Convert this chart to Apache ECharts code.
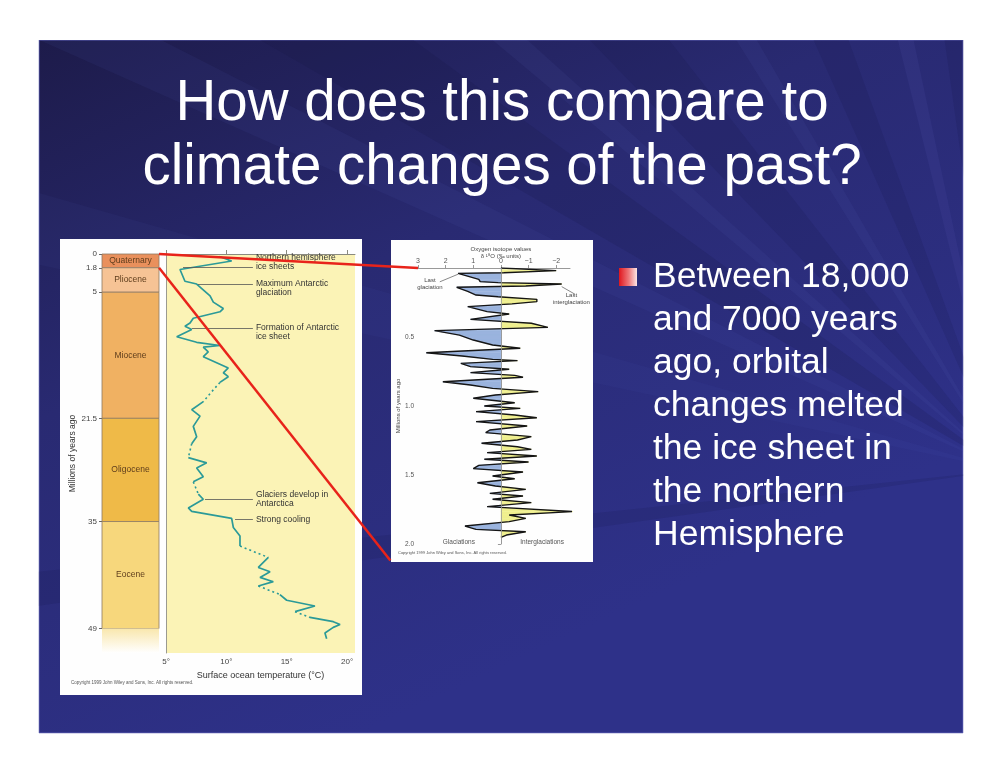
<!DOCTYPE html>
<html lang="en">
<head>
<meta charset="UTF-8">
<title>How does this compare to climate changes of the past?</title>
<script src="https://cdn.jsdelivr.net/npm/echarts@6/dist/echarts.min.js"></script>
<style>
  html, body { margin: 0; padding: 0; background: #fff; }
  #main { width: 1000px; height: 773px; }
</style>
</head>
<body>
<div id="main"></div>
<script>
var FONT = '"Liberation Sans", Arial, sans-serif';

// slide text
var titleLines = ['How does this compare to', 'climate changes of the past?'];
var bulletLines = ['Between 18,000', 'and 7000 years', 'ago, orbital', 'changes melted',
  'the ice sheet in', 'the northern', 'Hemisphere'];

// geologic column (millions of years ago)
var epochNames = ['Quaternary', 'Pliocene', 'Miocene', 'Oligocene', 'Eocene', ''];
var epochStart = [0, 1.8, 5, 21.5, 35, 49];
var epochEnd = [1.8, 5, 21.5, 35, 49, 52.2];
var ageTicks = [0, 1.8, 5, 21.5, 35, 49];

// surface ocean temperature (°C) against age (Ma)
var tempAge = [0.32, 0.92, 2.03, 3.56, 3.93, 5.47, 6.30, 7.14, 7.56, 8.40,
  9.03, 9.45, 9.87, 10.83, 11.55, 11.97, 12.18, 12.81, 13.44, 14.91,
  15.54, 16.05, 16.80, 18.26, 19.32, 20.37, 21.21, 22.55, 23.91, 24.81,
  26.64, 26.85, 27.32, 28.0, 29.13, 29.81, 31.41, 32.09, 33.22, 33.68,
  34.59, 35.78, 36.90, 38.21, 39.70, 41.01, 41.57, 42.31, 42.87, 43.43,
  44.55, 45.30, 46.05, 46.79, 47.54, 48.10, 48.47, 48.85, 49.59, 50.34];
var tempVal = [9.42, 10.44, 6.16, 6.57, 7.54, 8.65, 8.92, 9.75, 9.47, 7.26,
  6.99, 6.57, 7.13, 5.89, 7.54, 9.47, 8.09, 8.50, 8.09, 10.16,
  9.75, 10.16, 9.47, 8.65, 8.09, 7.13, 7.82, 7.26, 7.54, 7.13,
  6.85, 6.72, 8.37, 7.54, 8.09, 7.26, 7.68, 8.09, 6.85, 7.13,
  10.44, 10.58, 11.13, 11.13, 13.48, 12.65, 13.62, 12.79, 13.89, 12.65,
  14.44, 15.0, 17.34, 15.69, 16.93, 18.86, 19.42, 18.86, 18.17, 18.31];
// segments (start index) drawn dotted where the record is uncertain
var dottedSegments = [22, 23, 29, 35, 43, 49, 53];
var tempTicks = [5, 10, 15, 20];

// notes on the temperature curve
var noteText = ['Northern hemisphere\nice sheets', 'Maximum Antarctic\nglaciation',
  'Formation of Antarctic\nice sheet', 'Glaciers develop in\nAntarctica', 'Strong cooling'];
var noteAge = [1.72, 3.93, 9.66, 32.1, 34.69];
var noteFrom = [6.41, 7.65, 7.15, 8.23, 10.72];

// oxygen isotope record, last 2 million years
var isoAge = [0, 0.01, 0.019, 0.034, 0.039, 0.082, 0.099, 0.106, 0.116, 0.13,
  0.14, 0.17, 0.196, 0.208, 0.227, 0.244, 0.26, 0.28, 0.316, 0.333,
  0.372, 0.40, 0.43, 0.454, 0.486, 0.522, 0.558, 0.582, 0.614, 0.638,
  0.662, 0.671, 0.691, 0.715, 0.734, 0.758, 0.778, 0.792, 0.824, 0.848,
  0.872, 0.896, 0.92, 0.944, 0.976, 1.0, 1.017, 1.041, 1.065, 1.085,
  1.113, 1.145, 1.174, 1.193, 1.222, 1.246, 1.27, 1.295, 1.314, 1.338,
  1.362, 1.386, 1.406, 1.43, 1.454, 1.478, 1.507, 1.527, 1.556, 1.58,
  1.604, 1.633, 1.652, 1.676, 1.70, 1.729, 1.765, 1.79, 1.814, 1.838,
  1.87, 1.894, 1.911, 1.935, 1.952];
var isoVal = [0, 0, -2.0, -0.1, 1.55, 0.8, 0.75, 0.1, -2.2, -0.9,
  1.6, 1.2, 0.9, 0.1, -1.3, -1.3, -0.4, 1.2, 0.5, -0.3,
  1.1, -1.1, -1.7, 2.4, 1.5, 1.0, 0.3, -0.7, 2.7, 1.4,
  0.3, -0.6, 1.45, 1.1, -0.3, 1.1, -0.5, -0.8, 2.1, 1.1,
  0.3, -1.35, 0.2, 1.0, -0.5, 0.6, -0.7, 0.9, -0.5, -1.3,
  0.9, -0.95, 0.4, 0.55, -1.1, -0.6, 0.7, -0.6, -1.1, 0.5,
  -1.3, 0.6, -1.0, 0.8, 1.0, -0.8, 0.3, -0.5, 0.85, 0.2,
  -0.9, 0.4, -0.8, 0.3, -1.1, 0.5, -2.6, -0.3, -0.9, -0.3,
  1.3, 0.9, -0.9, -0.2, 0];
var isoTicks = [3, 2, 1, 0, -1, -2];
var isoAgeTicks = [0.5, 1.0, 1.5, 2.0];

// ---------- styles ----------
var epochColors = ['#e9905c', '#f6c395', '#f0b162', '#efba48', '#f7d77c', '#f9e7ad'];
var TEAL = '#2b9a98';
var BLUE_FILL = '#9ab3de', YELLOW_FILL = '#efef8e';
var noteEnd = 12.2;
var noteAnchor = [1.5, 0.5, 0.5, 1, 0.5];

var chart = echarts.init(document.getElementById('main'));

// split the temperature curve into solid and dotted pieces
function splitLine(ages, vals, dotted) {
  var solid = [], dots = [];
  for (var i = 0; i < ages.length - 1; i++) {
    var a = [vals[i], ages[i]], b = [vals[i + 1], ages[i + 1]];
    var target = dotted.indexOf(i) >= 0 ? dots : solid;
    var last = target[target.length - 1];
    if (!last || last[0] !== a[0] || last[1] !== a[1]) {
      if (last) target.push(['-', '-']);
      target.push(a);
    }
    target.push(b);
  }
  return { solid: solid, dots: dots };
}
var tempLine = splitLine(tempAge, tempVal, dottedSegments);

function renderEpoch(params, api) {
  var i = params.dataIndex;
  var p0 = api.coord([api.value(0), api.value(1)]);
  var p1 = api.coord([api.value(2), api.value(3)]);
  var last = i === epochColors.length - 1;
  var fill = last
    ? new echarts.graphic.LinearGradient(0, 0, 0, 1, [
        { offset: 0, color: epochColors[i] }, { offset: 1, color: '#ffffff' }])
    : epochColors[i];
  return {
    type: 'group',
    children: [{
      type: 'rect',
      shape: { x: p0[0], y: p0[1], width: p1[0] - p0[0], height: p1[1] - p0[1] },
      style: { fill: fill, stroke: last ? null : '#8d7a62', lineWidth: 0.8 }
    }, {
      type: 'text',
      x: (p0[0] + p1[0]) / 2, y: (p0[1] + p1[1]) / 2,
      style: { text: epochNames[i], fill: '#5e3d1c', font: '8.5px ' + FONT,
        align: 'center', verticalAlign: 'middle' }
    }]
  };
}

function renderIsoFill(params, api) {
  var v0 = api.value(0), a0 = api.value(1), v1 = api.value(2), a1 = api.value(3);
  function p(v, a) { return api.coord([v, a]); }
  function poly(pts, v) {
    var c = v >= 0 ? BLUE_FILL : YELLOW_FILL;
    return { type: 'polygon', shape: { points: pts }, style: { fill: c, stroke: c, lineWidth: 0.4 } };
  }
  var kids = [];
  if (v0 * v1 < 0) {
    var ac = a0 + (a1 - a0) * v0 / (v0 - v1);
    kids.push(poly([p(0, a0), p(v0, a0), p(0, ac)], v0));
    kids.push(poly([p(0, ac), p(v1, a1), p(0, a1)], v1));
  } else {
    kids.push(poly([p(0, a0), p(v0, a0), p(v1, a1), p(0, a1)], v0 + v1));
  }
  return { type: 'group', children: kids };
}

var option = {
  backgroundColor: '#ffffff',
  animation: false,
  textStyle: { fontFamily: FONT },
  grid: [
    { left: 102, top: 254, width: 57, height: 399 },
    { left: 166, top: 254, width: 189, height: 399, show: true, backgroundColor: '#fbf3b6', borderWidth: 0 },
    { left: 418, top: 268, width: 152, height: 276 }
  ],
  xAxis: [
    { gridIndex: 0, type: 'value', min: 0, max: 1, show: false },
    {
      gridIndex: 1, type: 'value', min: 5, max: 20.66,
      splitLine: { show: false },
      axisLine: { lineStyle: { color: '#8a8a80' } },
      axisTick: { inside: true, length: 4, customValues: tempTicks, lineStyle: { color: '#8a8a80' } },
      axisLabel: { customValues: tempTicks, formatter: function (v) { return v + '°'; },
        color: '#444', fontSize: 8, margin: 5 },
      name: 'Surface ocean temperature (°C)', nameLocation: 'middle', nameGap: 17,
      nameTextStyle: { color: '#333', fontSize: 9 }
    },
    {
      gridIndex: 2, type: 'value', min: -2.5, max: 3, inverse: true, position: 'top',
      splitLine: { show: false },
      axisLine: { lineStyle: { color: '#999' } },
      axisTick: { customValues: isoTicks, length: 3, lineStyle: { color: '#999' } },
      axisLabel: { customValues: isoTicks, color: '#555', fontSize: 7, margin: 3,
        formatter: function (v) { return v < 0 ? '\u2212' + (-v) : String(v); } }
    }
  ],
  yAxis: [
    {
      gridIndex: 0, type: 'value', min: 0, max: 52.2, inverse: true,
      splitLine: { show: false }, axisLine: { show: false },
      axisTick: { customValues: ageTicks, length: 3, lineStyle: { color: '#666' } },
      axisLabel: { customValues: ageTicks, formatter: function (v) { return String(v); },
        fontSize: 8, color: '#444', margin: 5 },
      name: 'Millions of years ago', nameLocation: 'middle', nameGap: 20, nameRotate: 90,
      nameTextStyle: { fontSize: 8.5, color: '#333' }
    },
    {
      gridIndex: 1, type: 'value', min: 0, max: 52.2, inverse: true,
      splitLine: { show: false }, axisLine: { lineStyle: { color: '#9a9a90' } },
      axisTick: { show: false }, axisLabel: { show: false }
    },
    {
      gridIndex: 2, type: 'value', min: 0, max: 2, inverse: true,
      splitLine: { show: false }, axisLine: { lineStyle: { color: '#999' } },
      axisTick: { customValues: isoAgeTicks, length: 3, lineStyle: { color: '#999' } },
      axisLabel: { customValues: isoAgeTicks, formatter: function (v) { return v.toFixed(1); },
        fontSize: 6.5, color: '#555', margin: 4 },
      name: 'Millions of years ago', nameLocation: 'middle', nameGap: 14, nameRotate: 90,
      nameTextStyle: { fontSize: 6, color: '#444' }
    }
  ],
  series: [
    {
      type: 'custom', xAxisIndex: 0, yAxisIndex: 0,
      renderItem: renderEpoch,
      encode: { x: [0, 2], y: [1, 3] },
      data: epochStart.map(function (s, i) { return [0, s, 1, epochEnd[i]]; })
    },
    {
      type: 'line', xAxisIndex: 1, yAxisIndex: 1, data: tempLine.solid,
      symbol: 'none', z: 3,
      lineStyle: { color: TEAL, width: 1.7 },
      markLine: {
        silent: true, symbol: ['none', 'none'], label: { show: false },
        lineStyle: { color: '#555', width: 0.8, type: 'solid' },
        data: noteAge.map(function (a, i) {
          return [{ coord: [noteFrom[i], a] }, { coord: [noteEnd, a] }];
        })
      }
    },
    {
      type: 'line', xAxisIndex: 1, yAxisIndex: 1, data: tempLine.dots,
      symbol: 'none', z: 3,
      lineStyle: { color: TEAL, width: 1.6, type: [2, 3] }
    },
    {
      type: 'custom', xAxisIndex: 2, yAxisIndex: 2,
      renderItem: renderIsoFill,
      encode: { x: [0, 2], y: [1, 3] },
      data: isoAge.slice(0, -1).map(function (a, i) {
        return [isoVal[i], a, isoVal[i + 1], isoAge[i + 1]];
      }),
      markLine: {
        silent: true, symbol: ['none', 'none'], label: { show: false },
        lineStyle: { color: '#999', width: 0.8, type: 'solid' },
        data: [{ xAxis: 0 }]
      }
    },
    {
      type: 'line', xAxisIndex: 2, yAxisIndex: 2, symbol: 'none', z: 4,
      lineStyle: { color: '#151515', width: 1.4 },
      data: isoAge.map(function (a, i) { return [isoVal[i], a]; })
    }
  ]
};
chart.setOption(option);

// ---------- slide decoration and labels ----------
function px(grid, pt) { return chart.convertToPixel({ gridIndex: grid }, pt); }

var els = [];
els.push({
  type: 'rect', z: -10, shape: { x: 39, y: 40, width: 924, height: 693 },
  style: {
    fill: { type: 'linear', x: 0, y: 0, x2: 0.35, y2: 1, colorStops: [
      { offset: 0, color: '#1d1b4a' }, { offset: 0.45, color: '#292a72' }, { offset: 1, color: '#2e3189' }] },
    stroke: '#5a5cb0', lineWidth: 1
  }
});

var rayOrigin = [1005, 470];
var rays = [[-8, -6, '#14133c', 0.12], [12, 16, '#6a70d0', 0.05], [24, 27, '#6a70d0', 0.07],
  [30, 36, '#12113a', 0.15], [40, 42, '#6a70d0', 0.08], [46, 52, '#12113a', 0.12],
  [58, 60, '#6a70d0', 0.08], [66, 70, '#12113a', 0.12], [76, 78, '#6a70d0', 0.09], [82, 85, '#12113a', 0.12]];
rays.forEach(function (r) {
  var R = 1500, a1 = r[0] * Math.PI / 180, a2 = r[1] * Math.PI / 180;
  els.push({
    type: 'polygon', z: -9,
    shape: { points: [rayOrigin,
      [rayOrigin[0] - R * Math.cos(a1), rayOrigin[1] - R * Math.sin(a1)],
      [rayOrigin[0] - R * Math.cos(a2), rayOrigin[1] - R * Math.sin(a2)]] },
    style: { fill: r[2], opacity: r[3] }
  });
});
// white page margins around the slide
[[0, 0, 1000, 40], [0, 733.5, 1000, 40], [0, 0, 38.5, 773], [963.5, 0, 37, 773]].forEach(function (b) {
  els.push({ type: 'rect', z: -8, shape: { x: b[0], y: b[1], width: b[2], height: b[3] }, style: { fill: '#ffffff' } });
});

// picture panels
els.push({ type: 'rect', z: -7, shape: { x: 60, y: 239, width: 302, height: 456 }, style: { fill: '#fefefe' } });
els.push({ type: 'rect', z: -7, shape: { x: 391, y: 240, width: 202, height: 322 }, style: { fill: '#fefefe' } });

// title and bullet
els.push({
  type: 'text', z: 10, x: 502, y: 72,
  style: { text: titleLines.join('\n'), font: '56.5px ' + FONT, fill: '#ffffff', align: 'center',
    verticalAlign: 'top', lineHeight: 64, shadowColor: 'rgba(0,0,0,0.75)', shadowBlur: 2,
    shadowOffsetX: 2, shadowOffsetY: 2 }
});
els.push({
  type: 'rect', z: 10, shape: { x: 619, y: 268, width: 18, height: 18 },
  style: { fill: { type: 'linear', x: 0, y: 0, x2: 1, y2: 0, colorStops: [
    { offset: 0, color: '#e0161e' }, { offset: 0.55, color: '#ee7a7c' }, { offset: 1, color: '#fde6e6' }] } }
});
els.push({
  type: 'text', z: 10, x: 653, y: 256,
  style: { text: bulletLines.join('\n'), font: '35.5px ' + FONT, fill: '#ffffff',
    verticalAlign: 'top', lineHeight: 43, shadowColor: 'rgba(0,0,0,0.6)', shadowBlur: 2,
    shadowOffsetX: 1.5, shadowOffsetY: 1.5 }
});

// notes on the temperature chart
noteText.forEach(function (t, i) {
  var p = px(1, [noteEnd, noteAge[i]]);
  els.push({
    type: 'text', z: 10, x: p[0] + 3, y: p[1] - noteAnchor[i] * 9,
    style: { text: t, font: '8.5px ' + FONT, fill: '#333', verticalAlign: 'top', lineHeight: 9 }
  });
});

// isotope chart titles and notes
var pTop = px(2, [0, 0]);
els.push({
  type: 'text', z: 10, x: pTop[0], y: pTop[1] - 22,
  style: { text: 'Oxygen isotope values\n\u03b4 \u00b9\u2078O (\u2030 units)', font: '6px ' + FONT, fill: '#444',
    align: 'center', verticalAlign: 'top', lineHeight: 7 }
});
var pG = px(2, [1.52, 1.99]), pI = px(2, [-1.49, 1.99]);
els.push({ type: 'text', z: 10, x: pG[0], y: pG[1], style: { text: 'Glaciations', font: '6.5px ' + FONT,
  fill: '#555', align: 'center', verticalAlign: 'middle' } });
els.push({ type: 'text', z: 10, x: pI[0], y: pI[1], style: { text: 'Interglaciations', font: '6.5px ' + FONT,
  fill: '#555', align: 'center', verticalAlign: 'middle' } });

var lg0 = px(2, [2.21, 0.1]), lg1 = px(2, [1.55, 0.045]), lgT = px(2, [2.57, 0.116]);
els.push({ type: 'line', z: 10, shape: { x1: lg0[0], y1: lg0[1], x2: lg1[0], y2: lg1[1] }, style: { stroke: '#555', lineWidth: 0.7 } });
els.push({ type: 'text', z: 10, x: lgT[0], y: lgT[1], style: { text: 'Last\nglaciation', font: '6px ' + FONT,
  fill: '#444', align: 'center', verticalAlign: 'middle', lineHeight: 6.5 } });
var li0 = px(2, [-2.2, 0.135]), li1 = px(2, [-2.68, 0.19]), liT = px(2, [-2.55, 0.225]);
els.push({ type: 'line', z: 10, shape: { x1: li0[0], y1: li0[1], x2: li1[0], y2: li1[1] }, style: { stroke: '#555', lineWidth: 0.7 } });
els.push({ type: 'text', z: 10, x: liT[0], y: liT[1], style: { text: 'Last\ninterglaciation', font: '6px ' + FONT,
  fill: '#444', align: 'center', verticalAlign: 'middle', lineHeight: 6.5 } });

// copyright lines
els.push({ type: 'text', z: 10, x: 71, y: 683, style: { text: 'Copyright 1999 John Wiley and Sons, Inc. All rights reserved.',
  font: '4.5px ' + FONT, fill: '#555', verticalAlign: 'middle' } });
els.push({ type: 'text', z: 10, x: 398, y: 553, style: { text: 'Copyright 1999 John Wiley and Sons, Inc. All rights reserved.',
  font: '4px ' + FONT, fill: '#555', verticalAlign: 'middle' } });

// red connectors from the Quaternary box to the isotope record
var c1a = px(0, [1, 0]), c1b = px(2, [3, 0]);
var c2a = px(0, [1, 1.8]), c2b = px(2, [4.0, 2.12]);
[[c1a, c1b], [c2a, c2b]].forEach(function (c) {
  els.push({ type: 'line', z: 50, shape: { x1: c[0][0], y1: c[0][1], x2: c[1][0], y2: c[1][1] },
    style: { stroke: '#e8231a', lineWidth: 2.5 } });
});

chart.setOption({ graphic: { elements: els } });
</script>
</body>
</html>
